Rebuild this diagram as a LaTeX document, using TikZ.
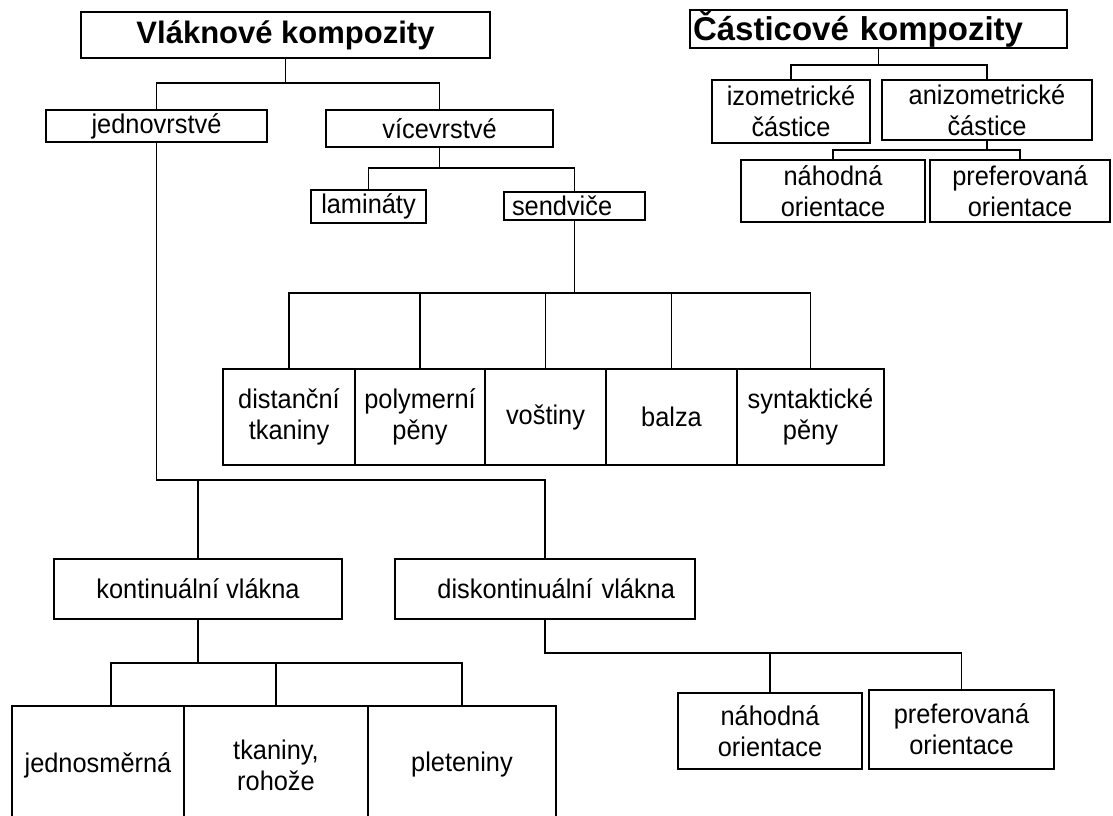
\documentclass[tikz,border=0pt]{standalone}
\usepackage{fontspec}
\setmainfont{Liberation Sans}[FakeStretch=0.94]
\newfontfamily\nadpis{Liberation Sans}
\begin{document}
\begin{tikzpicture}[x=1pt, y=-1pt, line width=1.8pt,
  kbox/.style={draw, line width=1.8pt, inner sep=0pt, align=center, font=\fontsize{27}{31}\selectfont},
  hlavni/.style={kbox, font=\nadpis\fontsize{31}{36}\selectfont\bfseries}]
\useasboundingbox (0,0) rectangle (1113,816);
\node[hlavni, minimum width=409pt, minimum height=46pt] (vlakno) at (285.5,35) {Vláknové kompozity};
\node[kbox, minimum width=221pt, minimum height=32pt] (jedno) at (156.5,126) {jednovrstvé};
\node[kbox, minimum width=227pt, minimum height=37pt] (vice) at (439.5,128.5) {vícevrstvé};
\node[kbox, minimum width=115pt, minimum height=33pt] (lamin) at (368.5,206.5) {lamináty};
\node[kbox, minimum height=28pt, text width=125pt, inner xsep=8pt, align=left] (sendv) at (574.5,206) {sendviče};
\foreach \n/\x/\w/\t in {dist/289/132/distanční\\tkaniny, poly/420/130/polymerní\\pěny,
  vost/545.5/121/voštiny, balz/671.5/131/balza, synt/810.5/147/syntaktické\\pěny}
{
    \node[kbox, minimum width=\w*1pt, minimum height=96pt] (\n) at (\x,417) {\t};
}
\node[kbox, minimum width=288pt, minimum height=60pt] (kont) at (198,589) {kontinuální vlákna};
\node[kbox, minimum height=60pt, text width=260pt, inner xsep=20pt, align=right] (diskont) at (545,589) {diskontinuální vlákna};
\foreach \n/\x/\w/\t in {jsmer/98/172/jednosměrná, tkan/276/184/{tkaniny,\\rohože}, plet/462/188/pleteniny}
{
    \node[kbox, minimum width=\w*1pt, minimum height=118pt] (\n) at (\x,765) {\t};
}
\node[kbox, minimum width=184pt, minimum height=76pt] (nah1) at (770,731) {náhodná\\orientace};
\node[kbox, minimum width=185pt, minimum height=79pt] (pref1) at (961.5,729.5) {preferovaná\\orientace};
\node[hlavni, font=\nadpis\fontsize{33}{38}\selectfont\bfseries, minimum height=38pt, text width=371pt, inner xsep=3pt, align=left] (castic) at (878.5,29) {Částicové kompozity};
\node[kbox, minimum width=158pt, minimum height=63pt] (izo) at (791,111.5) {izometrické\\částice};
\node[kbox, minimum width=210pt, minimum height=60pt] (aniz) at (987,110) {anizometrické\\částice};
\node[kbox, minimum width=184pt, minimum height=62pt] (nah2) at (833,191) {náhodná\\orientace};
\node[kbox, minimum width=180pt, minimum height=62pt] (pref2) at (1020,191) {preferovaná\\orientace};
\coordinate (f1) at (285.5,83);
\coordinate (f2) at (439.5,168);
\coordinate (f3) at (574.5,293);
\coordinate (f4) at (198,480);
\coordinate (f5) at (198,663);
\coordinate (f6) at (770,653);
\coordinate (f7) at (878.5,65);
\coordinate (f8) at (987,150);
\draw (vlakno.south) -- (f1);
\draw (jedno.north) |- (f1) -| (vice.north);
\draw (vice.south) -- (f2);
\draw (lamin.north) |- (f2) -| (sendv.north);
\draw (sendv.south) -- (f3);
\draw (dist.north) |- (f3) -| (synt.north);
\foreach \n in {poly,vost,balz}
{
    \draw (\n.north) -- (\n.north |- f3);
}
\draw (jedno.south) |- (f4) -| (diskont.north);
\draw (kont.north) -- (f4);
\draw (kont.south) -- (f5);
\draw ([xshift=13pt]jsmer.north) |- (f5) -| (plet.north);
\draw (tkan.north) -- (tkan.north |- f5);
\draw (diskont.south) |- (f6) -| (pref1.north);
\draw (nah1.north) -- (f6);
\draw (castic.south) -- (f7);
\draw (izo.north) |- (f7) -| (aniz.north);
\draw (aniz.south) -- (f8);
\draw (nah2.north) |- (f8) -| (pref2.north);
\end{tikzpicture}
\end{document}
